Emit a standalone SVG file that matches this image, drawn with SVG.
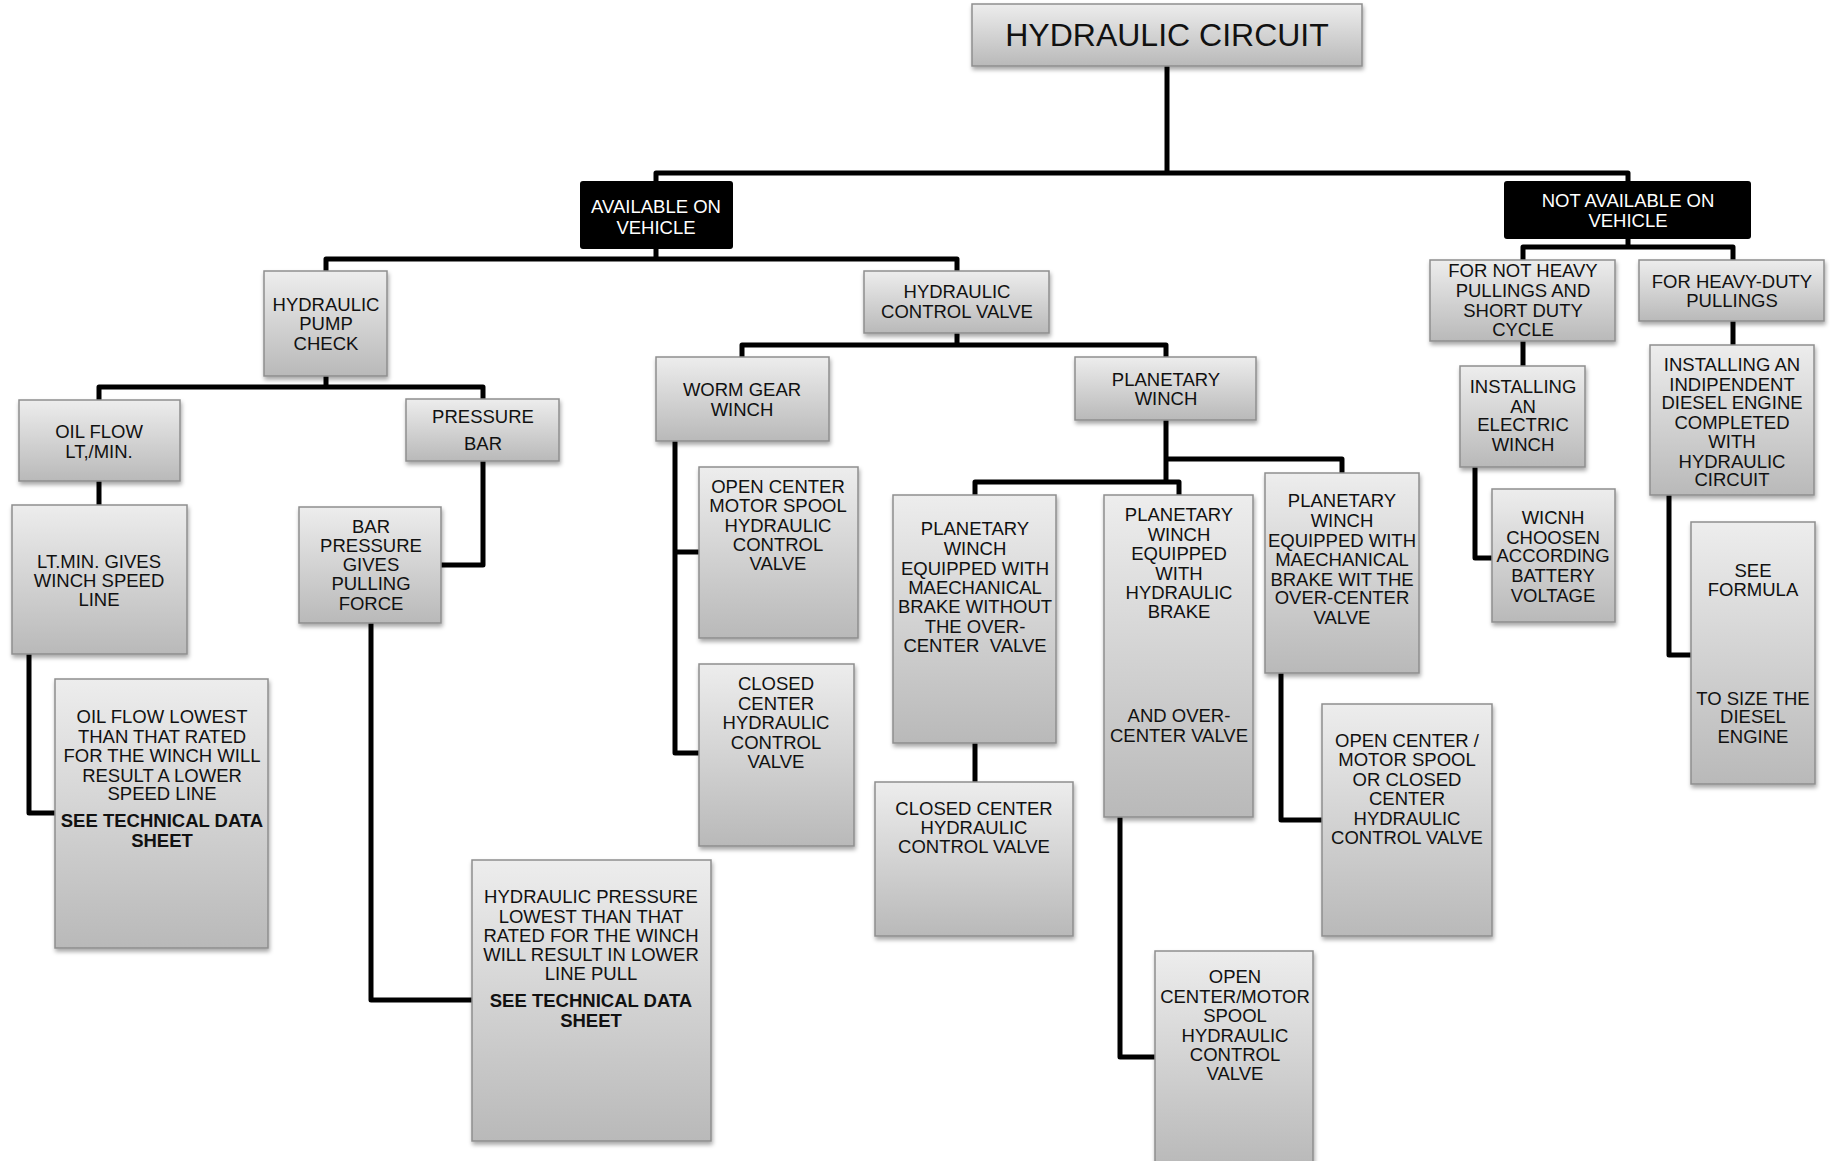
<svg xmlns="http://www.w3.org/2000/svg" width="1830" height="1161" viewBox="0 0 1830 1161">
<defs>
<linearGradient id="g" x1="0" y1="0" x2="0" y2="1">
<stop offset="0" stop-color="#ededed"/>
<stop offset="1" stop-color="#b9b9b9"/>
</linearGradient>
<filter id="sh" x="-10%" y="-10%" width="125%" height="125%">
<feDropShadow dx="1" dy="3" stdDeviation="2" flood-color="#000" flood-opacity="0.35"/>
</filter>
<style>
.b{fill:url(#g);stroke:#8e8e8e;stroke-width:1.5;filter:url(#sh)}
.k{fill:#000;stroke:none}
.t{font-family:"Liberation Sans",Arial,sans-serif;font-size:18.5px;fill:#111;text-anchor:middle}
.w{fill:#fff}
.bd{font-weight:bold}
.c{fill:none;stroke:#000;stroke-width:5;stroke-linejoin:round}
</style>
</defs>
<rect width="1830" height="1161" fill="#fff"/>

<g id="connectors">
<path class="c" d="M1167,66 V173 M656,181 V173 H1628 V181"/>
<path class="c" d="M656,249 V259 M326,271 V259 H957 V271"/>
<path class="c" d="M326,376 V387 M99,400 V387 H483 V399"/>
<path class="c" d="M99,481 V505"/>
<path class="c" d="M29,654 V813 H55"/>
<path class="c" d="M483,461 V565 H441"/>
<path class="c" d="M371,623 V1000 H472"/>
<path class="c" d="M957,333 V345 M742,357 V345 H1166 V357"/>
<path class="c" d="M675,441 V753 H699 M675,552 H699"/>
<path class="c" d="M1166,420 V482 M1166,459 H1342 V473 M975,495 V482 H1179 V495"/>
<path class="c" d="M975,743 V782"/>
<path class="c" d="M1120,817 V1057 H1155"/>
<path class="c" d="M1281,673 V820 H1322"/>
<path class="c" d="M1628,239 V247 M1523,260 V247 H1733 V260"/>
<path class="c" d="M1523,341 V366"/>
<path class="c" d="M1475,467 V558 H1492"/>
<path class="c" d="M1733,321 V345"/>
<path class="c" d="M1669,495 V655 H1691"/>
</g>

<g id="root">
<rect class="b" x="972" y="4" width="390" height="62"/>
<text class="t" x="1167" y="46" style="font-size:32px">HYDRAULIC CIRCUIT</text>
</g>

<g id="available">
<rect class="k" x="580" y="181" width="153" height="68" rx="3"/>
<text class="t w" x="656" y="213">AVAILABLE ON</text>
<text class="t w" x="656" y="234">VEHICLE</text>
</g>

<g id="not-available">
<rect class="k" x="1504" y="181" width="247" height="58" rx="3"/>
<text class="t w" x="1628" y="207">NOT AVAILABLE ON</text>
<text class="t w" x="1628" y="227">VEHICLE</text>
</g>

<g id="pump-check">
<rect class="b" x="264" y="271" width="123" height="105"/>
<text class="t" x="326" y="311">HYDRAULIC</text>
<text class="t" x="326" y="330">PUMP</text>
<text class="t" x="326" y="350">CHECK</text>
</g>

<g id="control-valve">
<rect class="b" x="864" y="271" width="185" height="62"/>
<text class="t" x="957" y="298">HYDRAULIC</text>
<text class="t" x="957" y="318">CONTROL VALVE</text>
</g>

<g id="oil-flow">
<rect class="b" x="19" y="400" width="161" height="81"/>
<text class="t" x="99" y="438">OIL FLOW</text>
<text class="t" x="99" y="458">LT,/MIN.</text>
</g>

<g id="pressure-bar">
<rect class="b" x="406" y="399" width="153" height="62"/>
<text class="t" x="483" y="423">PRESSURE</text>
<text class="t" x="483" y="450">BAR</text>
</g>

<g id="ltmin">
<rect class="b" x="12" y="505" width="175" height="149"/>
<text class="t" x="99" y="568">LT.MIN. GIVES</text>
<text class="t" x="99" y="587">WINCH SPEED</text>
<text class="t" x="99" y="606">LINE</text>
</g>

<g id="bar-pressure">
<rect class="b" x="299" y="507" width="142" height="116"/>
<text class="t" x="371" y="533">BAR</text>
<text class="t" x="371" y="552">PRESSURE</text>
<text class="t" x="371" y="571">GIVES</text>
<text class="t" x="371" y="590">PULLING</text>
<text class="t" x="371" y="610">FORCE</text>
</g>

<g id="oil-flow-lowest">
<rect class="b" x="55" y="679" width="213" height="269"/>
<text class="t" x="162" y="723">OIL FLOW LOWEST</text>
<text class="t" x="162" y="743">THAN THAT RATED</text>
<text class="t" x="162" y="762">FOR THE WINCH WILL</text>
<text class="t" x="162" y="782">RESULT A LOWER</text>
<text class="t" x="162" y="800">SPEED LINE</text>
<text class="t bd" x="162" y="827">SEE TECHNICAL DATA</text>
<text class="t bd" x="162" y="847">SHEET</text>
</g>

<g id="hyd-pressure-lowest">
<rect class="b" x="472" y="860" width="239" height="281"/>
<text class="t" x="591" y="903">HYDRAULIC PRESSURE</text>
<text class="t" x="591" y="923">LOWEST THAN THAT</text>
<text class="t" x="591" y="942">RATED FOR THE WINCH</text>
<text class="t" x="591" y="961">WILL RESULT IN LOWER</text>
<text class="t" x="591" y="980">LINE PULL</text>
<text class="t bd" x="591" y="1007">SEE TECHNICAL DATA</text>
<text class="t bd" x="591" y="1027">SHEET</text>
</g>

<g id="worm-gear">
<rect class="b" x="656" y="357" width="173" height="84"/>
<text class="t" x="742" y="396">WORM GEAR</text>
<text class="t" x="742" y="416">WINCH</text>
</g>

<g id="planetary">
<rect class="b" x="1075" y="357" width="181" height="63"/>
<text class="t" x="1166" y="386">PLANETARY</text>
<text class="t" x="1166" y="405">WINCH</text>
</g>

<g id="worm-open-center">
<rect class="b" x="699" y="467" width="159" height="171"/>
<text class="t" x="778" y="493">OPEN CENTER</text>
<text class="t" x="778" y="512">MOTOR SPOOL</text>
<text class="t" x="778" y="532">HYDRAULIC</text>
<text class="t" x="778" y="551">CONTROL</text>
<text class="t" x="778" y="570">VALVE</text>
</g>

<g id="worm-closed-center">
<rect class="b" x="699" y="664" width="155" height="182"/>
<text class="t" x="776" y="690">CLOSED</text>
<text class="t" x="776" y="710">CENTER</text>
<text class="t" x="776" y="729">HYDRAULIC</text>
<text class="t" x="776" y="749">CONTROL</text>
<text class="t" x="776" y="768">VALVE</text>
</g>

<g id="planetary-mech-without">
<rect class="b" x="893" y="495" width="163" height="248"/>
<text class="t" x="975" y="535">PLANETARY</text>
<text class="t" x="975" y="555">WINCH</text>
<text class="t" x="975" y="575">EQUIPPED WITH</text>
<text class="t" x="975" y="594">MAECHANICAL</text>
<text class="t" x="975" y="613">BRAKE WITHOUT</text>
<text class="t" x="975" y="633">THE OVER-</text>
<text class="t" x="975" y="652" xml:space="preserve">CENTER  VALVE</text>
</g>

<g id="planetary-closed-center">
<rect class="b" x="875" y="782" width="198" height="154"/>
<text class="t" x="974" y="815">CLOSED CENTER</text>
<text class="t" x="974" y="834">HYDRAULIC</text>
<text class="t" x="974" y="853">CONTROL VALVE</text>
</g>

<g id="planetary-hyd-brake">
<rect class="b" x="1104" y="495" width="149" height="322"/>
<text class="t" x="1179" y="521">PLANETARY</text>
<text class="t" x="1179" y="541">WINCH</text>
<text class="t" x="1179" y="560">EQUIPPED</text>
<text class="t" x="1179" y="580">WITH</text>
<text class="t" x="1179" y="599">HYDRAULIC</text>
<text class="t" x="1179" y="618">BRAKE</text>
<text class="t" x="1179" y="722">AND OVER-</text>
<text class="t" x="1179" y="742">CENTER VALVE</text>
</g>

<g id="planetary-open-motor">
<rect class="b" x="1155" y="951" width="158" height="215"/>
<text class="t" x="1235" y="983">OPEN</text>
<text class="t" x="1235" y="1003">CENTER/MOTOR</text>
<text class="t" x="1235" y="1022">SPOOL</text>
<text class="t" x="1235" y="1042">HYDRAULIC</text>
<text class="t" x="1235" y="1061">CONTROL</text>
<text class="t" x="1235" y="1080">VALVE</text>
</g>

<g id="planetary-mech-with">
<rect class="b" x="1265" y="473" width="154" height="200"/>
<text class="t" x="1342" y="507">PLANETARY</text>
<text class="t" x="1342" y="527">WINCH</text>
<text class="t" x="1342" y="547">EQUIPPED WITH</text>
<text class="t" x="1342" y="566">MAECHANICAL</text>
<text class="t" x="1342" y="586">BRAKE WIT THE</text>
<text class="t" x="1342" y="604">OVER-CENTER</text>
<text class="t" x="1342" y="624">VALVE</text>
</g>

<g id="open-or-closed">
<rect class="b" x="1322" y="704" width="170" height="232"/>
<text class="t" x="1407" y="747">OPEN CENTER /</text>
<text class="t" x="1407" y="766">MOTOR SPOOL</text>
<text class="t" x="1407" y="786">OR CLOSED</text>
<text class="t" x="1407" y="805">CENTER</text>
<text class="t" x="1407" y="825">HYDRAULIC</text>
<text class="t" x="1407" y="844">CONTROL VALVE</text>
</g>

<g id="not-heavy">
<rect class="b" x="1430" y="260" width="185" height="81"/>
<text class="t" x="1523" y="277">FOR NOT HEAVY</text>
<text class="t" x="1523" y="297">PULLINGS AND</text>
<text class="t" x="1523" y="317">SHORT DUTY</text>
<text class="t" x="1523" y="336">CYCLE</text>
</g>

<g id="heavy-duty">
<rect class="b" x="1639" y="260" width="185" height="61"/>
<text class="t" x="1732" y="288">FOR HEAVY-DUTY</text>
<text class="t" x="1732" y="307">PULLINGS</text>
</g>

<g id="electric-winch">
<rect class="b" x="1460" y="366" width="125" height="101"/>
<text class="t" x="1523" y="393">INSTALLING</text>
<text class="t" x="1523" y="413">AN</text>
<text class="t" x="1523" y="431">ELECTRIC</text>
<text class="t" x="1523" y="451">WINCH</text>
</g>

<g id="battery">
<rect class="b" x="1492" y="489" width="123" height="133"/>
<text class="t" x="1553" y="524">WICNH</text>
<text class="t" x="1553" y="544">CHOOSEN</text>
<text class="t" x="1553" y="562">ACCORDING</text>
<text class="t" x="1553" y="582">BATTERY</text>
<text class="t" x="1553" y="602">VOLTAGE</text>
</g>

<g id="diesel-engine">
<rect class="b" x="1650" y="345" width="164" height="150"/>
<text class="t" x="1732" y="371">INSTALLING AN</text>
<text class="t" x="1732" y="391">INDIPENDENT</text>
<text class="t" x="1732" y="409">DIESEL ENGINE</text>
<text class="t" x="1732" y="429">COMPLETED</text>
<text class="t" x="1732" y="448">WITH</text>
<text class="t" x="1732" y="468">HYDRAULIC</text>
<text class="t" x="1732" y="486">CIRCUIT</text>
</g>

<g id="formula">
<rect class="b" x="1691" y="522" width="124" height="262"/>
<text class="t" x="1753" y="577">SEE</text>
<text class="t" x="1753" y="596">FORMULA</text>
<text class="t" x="1753" y="705">TO SIZE THE</text>
<text class="t" x="1753" y="723">DIESEL</text>
<text class="t" x="1753" y="743">ENGINE</text>
</g>
</svg>
